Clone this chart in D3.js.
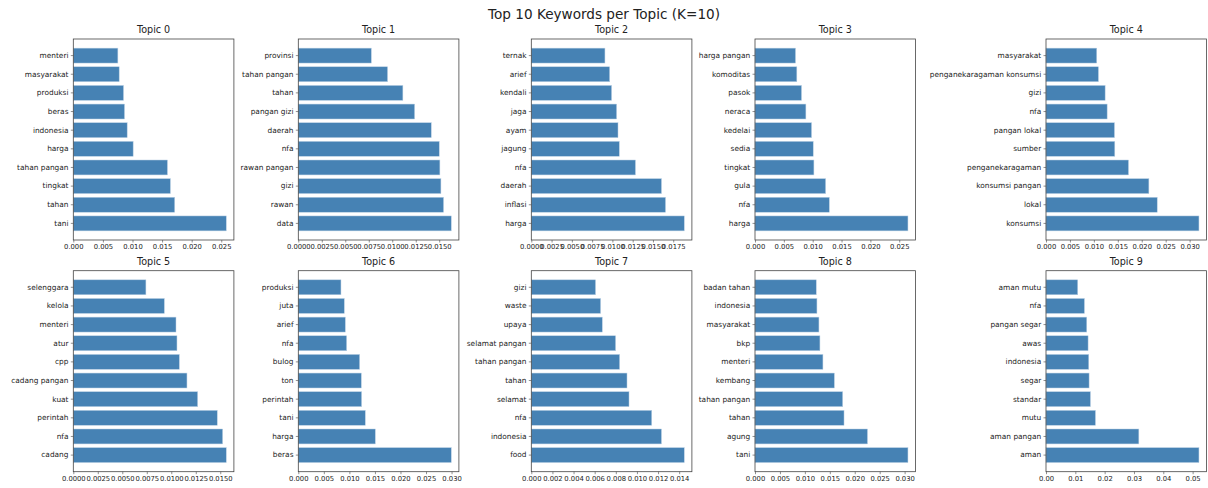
<html>
<head>
<script src="https://d3js.org/d3.v7.min.js"></script>
<style>
body { margin: 0; background: #fff; }
text { font-family: "DejaVu Sans", sans-serif; fill: #222; }
</style>
</head>
<body>
<script>

var width = 1208;
var height = 488;

var topicNames = ["Topic 0", "Topic 1", "Topic 2", "Topic 3", "Topic 4",
                  "Topic 5", "Topic 6", "Topic 7", "Topic 8", "Topic 9"];

// keywords, heaviest first (drawn bottom-up like barh)
var words0 = ["tani", "tahan", "tingkat", "tahan pangan", "harga", "indonesia", "beras", "produksi", "masyarakat", "menteri"];
var weights0 = [0.02584, 0.01713, 0.0164, 0.0159, 0.01011, 0.0091, 0.00865, 0.00848, 0.00775, 0.00753];
var ticks0 = ["0.000", "0.005", "0.010", "0.015", "0.020", "0.025"];

var words1 = ["data", "rawan", "gizi", "rawan pangan", "nfa", "daerah", "pangan gizi", "tahan", "tahan pangan", "provinsi"];
var weights1 = [0.01628, 0.01546, 0.01518, 0.01507, 0.0150, 0.01415, 0.01238, 0.01113, 0.0095, 0.00777];
var ticks1 = ["0.0000", "0.0025", "0.0050", "0.0075", "0.0100", "0.0125", "0.0150"];

var words2 = ["harga", "inflasi", "daerah", "nfa", "jagung", "ayam", "jaga", "kendali", "arief", "ternak"];
var weights2 = [0.01886, 0.01655, 0.01605, 0.01284, 0.01085, 0.01069, 0.01052, 0.0099, 0.00966, 0.00908];
var ticks2 = ["0.0000", "0.0025", "0.0050", "0.0075", "0.0100", "0.0125", "0.0150", "0.0175"];

var words3 = ["harga", "nfa", "gula", "tingkat", "sedia", "kedelai", "neraca", "pasok", "komoditas", "harga pangan"];
var weights3 = [0.02651, 0.01288, 0.01224, 0.01021, 0.01009, 0.0098, 0.00882, 0.00806, 0.00725, 0.00702];
var ticks3 = ["0.000", "0.005", "0.010", "0.015", "0.020", "0.025"];

var words4 = ["konsumsi", "lokal", "konsumsi pangan", "penganekaragaman", "sumber", "pangan lokal", "nfa", "gizi", "penganekaragaman konsumsi", "masyarakat"];
var weights4 = [0.03195, 0.02323, 0.02149, 0.01723, 0.01437, 0.0143, 0.01277, 0.01235, 0.01095, 0.0106];
var ticks4 = ["0.000", "0.005", "0.010", "0.015", "0.020", "0.025", "0.030"];

var words5 = ["cadang", "nfa", "perintah", "kuat", "cadang pangan", "cpp", "atur", "menteri", "kelola", "selenggara"];
var weights5 = [0.01561, 0.01524, 0.01469, 0.01269, 0.0116, 0.01082, 0.01058, 0.01048, 0.00929, 0.00741];
var ticks5 = ["0.0000", "0.0025", "0.0050", "0.0075", "0.0100", "0.0125", "0.0150"];

var words6 = ["beras", "harga", "tani", "perintah", "ton", "bulog", "nfa", "arief", "juta", "produksi"];
var weights6 = [0.02994, 0.01507, 0.01311, 0.01239, 0.01233, 0.0120, 0.00946, 0.0092, 0.0090, 0.00835];
var ticks6 = ["0.000", "0.005", "0.010", "0.015", "0.020", "0.025", "0.030"];

var words7 = ["food", "indonesia", "nfa", "selamat", "tahan", "tahan pangan", "selamat pangan", "upaya", "waste", "gizi"];
var weights7 = [0.01448, 0.01232, 0.0114, 0.00925, 0.00906, 0.00836, 0.00798, 0.00672, 0.00656, 0.00608];
var ticks7 = ["0.000", "0.002", "0.004", "0.006", "0.008", "0.010", "0.012", "0.014"];

var words8 = ["tani", "agung", "tahan", "tahan pangan", "kembang", "menteri", "bkp", "masyarakat", "indonesia", "badan tahan"];
var weights8 = [0.03067, 0.02255, 0.01785, 0.01758, 0.01591, 0.01362, 0.01302, 0.01282, 0.01242, 0.01228];
var ticks8 = ["0.000", "0.005", "0.010", "0.015", "0.020", "0.025", "0.030"];

var words9 = ["aman", "aman pangan", "mutu", "standar", "segar", "indonesia", "awas", "pangan segar", "nfa", "aman mutu"];
var weights9 = [0.05216, 0.03166, 0.01686, 0.01515, 0.01469, 0.01458, 0.01435, 0.0139, 0.0131, 0.01082];
var ticks9 = ["0.00", "0.01", "0.02", "0.03", "0.04", "0.05"];

var allWords = [words0, words1, words2, words3, words4, words5, words6, words7, words8, words9];
var allWeights = [weights0, weights1, weights2, weights3, weights4, weights5, weights6, weights7, weights8, weights9];
var allTicks = [ticks0, ticks1, ticks2, ticks3, ticks4, ticks5, ticks6, ticks7, ticks8, ticks9];

// panel frames (tight layout)
var colLeft = [73.3, 298.3, 531.3, 755, 1046];
var panelW = 160.6;
var rowTop = [39, 270.7];
var panelH = 201;

var svg = d3.select("body").append("svg")
    .attr("width", width)
    .attr("height", height);

svg.append("text")
    .attr("x", 604).attr("y", 18.5)
    .attr("text-anchor", "middle")
    .style("font-size", "13.6px")
    .text("Top 10 Keywords per Topic (K=10)");

topicNames.forEach(function(name, t) {
  var left = colLeft[t % 5];
  var top = rowTop[Math.floor(t / 5)];
  var words = allWords[t];
  var weights = allWeights[t];
  var ticks = allTicks[t];

  var x = d3.scaleLinear()
      .domain([0, d3.max(weights) * 1.05])
      .range([left, left + panelW]);

  var y = d3.scaleBand()
      .domain(words.slice().reverse())
      .range([top, top + panelH])
      .paddingInner(0.2)
      .paddingOuter(0.49);

  var g = svg.append("g");

  g.selectAll("rect.bar")
    .data(words)
    .enter().append("rect")
      .attr("class", "bar")
      .attr("x", x(0))
      .attr("y", function(d) { return y(d); })
      .attr("width", function(d, i) { return x(weights[i]) - x(0); })
      .attr("height", y.bandwidth())
      .attr("fill", "#4682b4")
      .attr("stroke", "#b9cfe3")
      .attr("stroke-width", 0.5);

  // frame
  g.append("rect")
    .attr("x", left).attr("y", top)
    .attr("width", panelW).attr("height", panelH)
    .attr("fill", "none")
    .attr("stroke", "#444")
    .attr("stroke-width", 0.8);

  var xAxis = d3.axisBottom(x)
      .tickValues(ticks.map(function(s) { return +s; }))
      .tickFormat(function(d, i) { return ticks[i]; })
      .tickSize(2.5)
      .tickPadding(2);

  var ax = g.append("g")
      .attr("transform", "translate(0," + (top + panelH) + ")")
      .call(xAxis);
  ax.select(".domain").remove();
  ax.selectAll("line").attr("stroke", "#444").attr("stroke-width", 0.6);
  ax.selectAll("text").style("font-size", "6.8px").attr("fill", "#222");

  var yAxis = d3.axisLeft(y)
      .tickSize(2.5)
      .tickPadding(2.3);

  var ay = g.append("g")
      .attr("transform", "translate(" + left + ",0)")
      .call(yAxis);
  ay.select(".domain").remove();
  ay.selectAll("line").attr("stroke", "#444").attr("stroke-width", 0.6);
  ay.selectAll("text").style("font-size", "7.4px").attr("fill", "#222");

  g.append("text")
    .attr("x", left + panelW / 2)
    .attr("y", top - 6.2)
    .attr("text-anchor", "middle")
    .style("font-size", "9.6px")
    .text(name);
});

</script>
</body>
</html>
